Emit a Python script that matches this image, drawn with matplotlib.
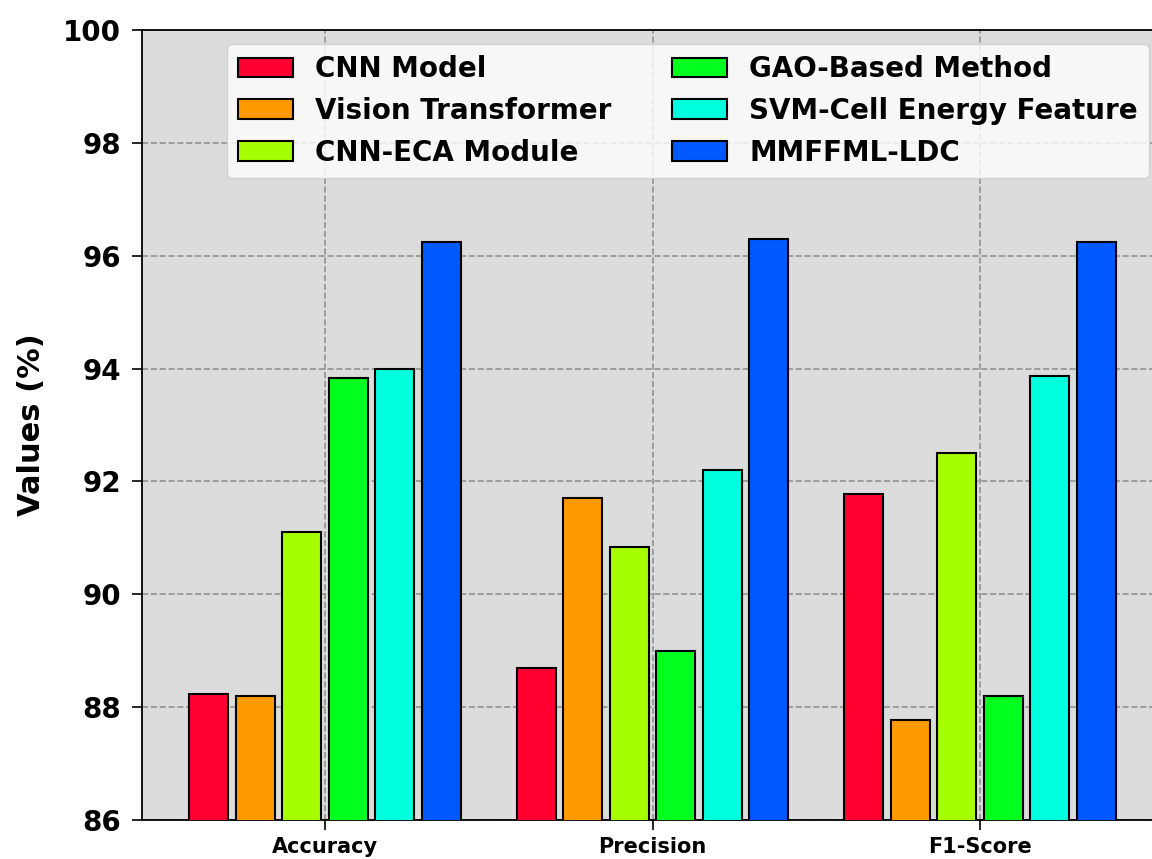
import numpy as np
import matplotlib
matplotlib.use("Agg")
import matplotlib.pyplot as plt

# data
metrics = ["Accuracy", "Precision", "F1-Score"]
methods = ["CNN Model", "Vision Transformer", "CNN-ECA Module",
           "GAO-Based Method", "SVM-Cell Energy Feature", "MMFFML-LDC"]
cnn_model = [88.23, 88.70, 91.77]
vision_transformer = [88.19, 91.70, 87.77]
cnn_eca = [91.10, 90.83, 92.50]
gao_based = [93.84, 89.00, 88.19]
svm_cell = [93.99, 92.20, 93.87]
mmffml_ldc = [96.24, 96.30, 96.24]
values = [cnn_model, vision_transformer, cnn_eca, gao_based, svm_cell, mmffml_ldc]
colors = ["#ff0030", "#ff9900", "#a6ff00", "#00ff1e", "#00ffdc", "#0059ff"]


def plot_bars():
    fig = plt.figure(figsize=(11.52, 8.59), dpi=100)
    # axes runs a little past the right edge, as in the cropped reference
    ax = fig.add_axes([142 / 1152, 39 / 859, 1021 / 1152, 790 / 859])
    ax.set_facecolor("#dcdcdc")

    x = np.arange(len(metrics))
    width = 0.12
    pitch = 0.142
    for i, (name, vals, col) in enumerate(zip(methods, values, colors)):
        ax.bar(x + (i - 2.5) * pitch, vals, width, color=col, edgecolor="black",
               linewidth=1.5, label=name, zorder=3)

    ax.set_ylim(86, 100)
    ax.set_xlim(-0.559, 2.559)
    ax.set_xticks(x)
    ax.set_xticklabels(metrics, fontsize=15, fontweight="bold")
    ax.set_yticks(np.arange(86, 101, 2))
    ax.tick_params(axis="y", labelsize=20, length=7, width=1.2, pad=8)
    ax.tick_params(axis="x", length=7, width=1.2, pad=5)
    for lab in ax.get_yticklabels():
        lab.set_fontweight("bold")
    ax.set_ylabel("Values (%)", fontsize=22, fontweight="bold", labelpad=12)

    ax.grid(True, linestyle="--", color="gray", alpha=0.8, linewidth=1.2, zorder=0)
    ax.set_axisbelow(True)
    for sp in ax.spines.values():
        sp.set_linewidth(1.3)

    ax.legend(loc="upper right", ncol=2, prop={"size": 20, "weight": "bold"},
              borderaxespad=0.5, columnspacing=2.15)

    fig.savefig("out.png", dpi=100)


if __name__ == "__main__":
    plot_bars()
